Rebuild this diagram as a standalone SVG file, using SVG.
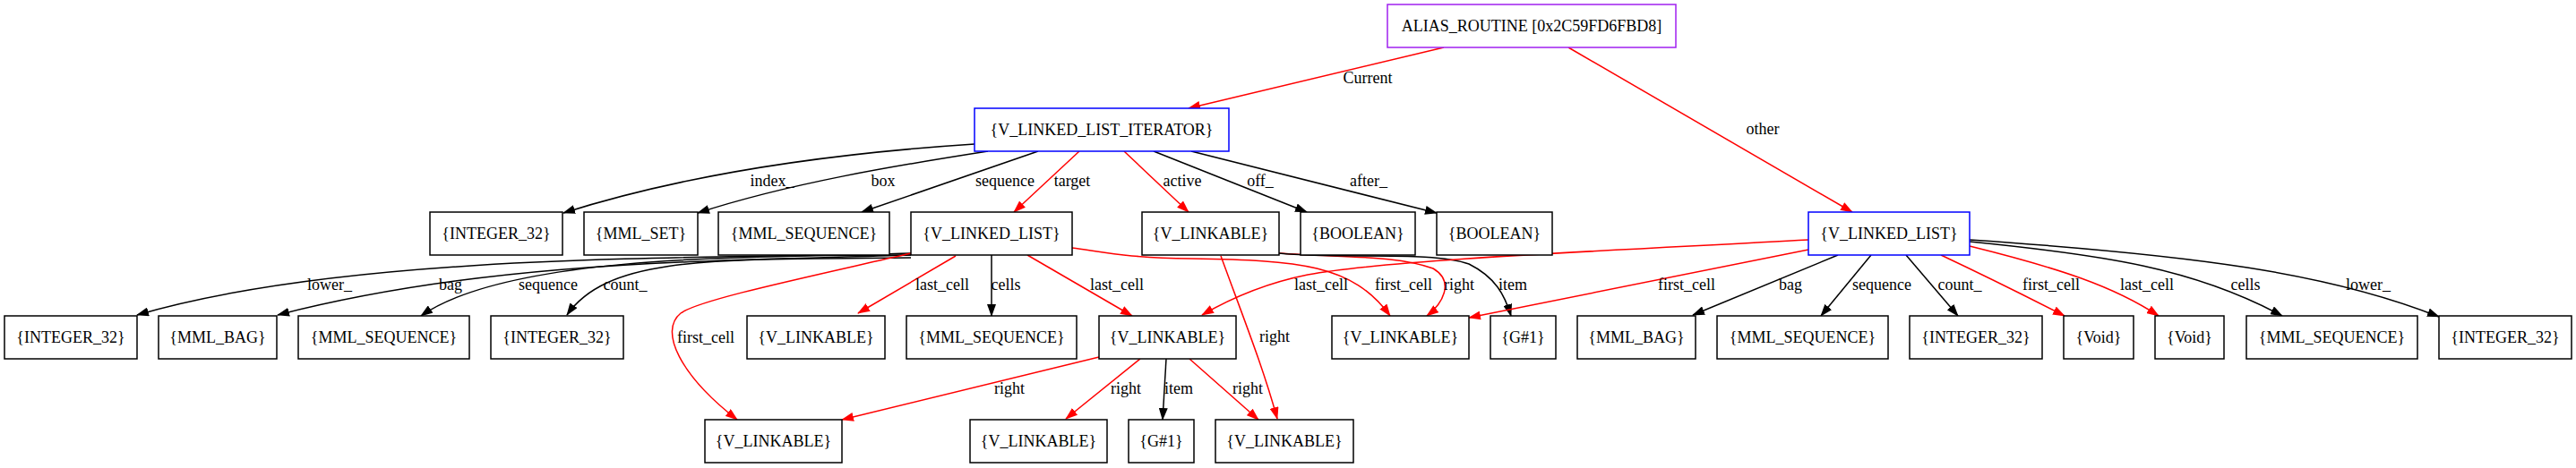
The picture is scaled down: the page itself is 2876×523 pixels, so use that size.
<svg xmlns="http://www.w3.org/2000/svg" width="2876" height="523" viewBox="0 0 2876 523">
<style>
.n rect{fill:#fff;stroke:#000;stroke-width:1.5}
.n.b rect{stroke:#0000ff}
.n.p rect{stroke:#a020f0}
text{font-family:"Liberation Serif","Times New Roman",serif;font-size:18px;fill:#000;text-anchor:middle}
.e path{fill:none;stroke:#000;stroke-width:1.5;marker-end:url(#ab)}
.e path.r{stroke:#ff0000;marker-end:url(#ar)}
</style>
<defs>
<marker id="ab" markerUnits="userSpaceOnUse" markerWidth="14" markerHeight="10" viewBox="0 0 14 10" refX="13" refY="5" orient="auto"><path d="M0,0 L14,5 L0,10 z" fill="#000"/></marker>
<marker id="ar" markerUnits="userSpaceOnUse" markerWidth="14" markerHeight="10" viewBox="0 0 14 10" refX="13" refY="5" orient="auto"><path d="M0,0 L14,5 L0,10 z" fill="#ff0000"/></marker>
</defs>
<rect width="2876" height="523" fill="#fff"/>
<g id="edges" class="e">
<path class="r" d="M1612,53 L1327,121"/>
<path class="r" d="M1751,53 L2068,237"/>
<path d="M1088,161 C950,170 780,190 629,238"/>
<path d="M1103,169 C1000,185 880,205 779,238"/>
<path d="M1159,169 L962,237"/>
<path class="r" d="M1205,169 L1132,237"/>
<path class="r" d="M1255,169 L1327,237"/>
<path d="M1288,169 L1459,237"/>
<path d="M1330,169 L1604,238"/>
<path d="M1017,283 C800,290 400,280 153,352"/>
<path d="M1017,285 C800,292 550,290 310,352"/>
<path d="M1017,285 C800,285 560,290 470,353"/>
<path d="M1017,288 C800,290 680,285 633,352"/>
<path class="r" d="M1017,283 C900,310 780,335 760,350 C735,370 760,420 823,469"/>
<path class="r" d="M1067,286 L958,350"/>
<path d="M1107,285 L1107,353"/>
<path class="r" d="M1147,285 L1264,353"/>
<path class="r" d="M1197,277 C1240,283 1260,288 1330,289 C1450,291 1510,295 1552,353"/>
<path class="r" d="M1363,286 C1390,360 1410,410 1426,468"/>
<path class="r" d="M1428,283 C1500,288 1560,285 1600,300 C1625,315 1610,340 1593,353"/>
<path d="M1428,283 C1500,290 1600,280 1640,295 C1670,310 1680,330 1687,353"/>
<path class="r" d="M1227,399 L940,469"/>
<path class="r" d="M1273,401 L1190,468"/>
<path d="M1302,401 L1298,469"/>
<path class="r" d="M1328,401 L1405,469"/>
<path class="r" d="M2019,268 C1800,280 1550,290 1460,307 C1420,315 1380,330 1342,352"/>
<path class="r" d="M2019,279 L1640,355"/>
<path d="M2052,285 L1890,352"/>
<path d="M2089,285 L2033,353"/>
<path d="M2128,285 L2186,353"/>
<path class="r" d="M2167,285 C2220,310 2260,330 2305,353"/>
<path class="r" d="M2199,275 C2300,300 2360,320 2410,353"/>
<path d="M2199,270 C2350,285 2450,300 2548,353"/>
<path d="M2199,268 C2450,285 2600,305 2723,354"/>
<text x="1527" y="93">Current</text>
<text x="1968" y="150">other</text>
<text x="862" y="208">index_</text>
<text x="986" y="208">box</text>
<text x="1122" y="208">sequence</text>
<text x="1197" y="208">target</text>
<text x="1320" y="208">active</text>
<text x="1407" y="208">off_</text>
<text x="1528" y="208">after_</text>
<text x="368" y="324">lower_</text>
<text x="503" y="324">bag</text>
<text x="612" y="324">sequence</text>
<text x="698" y="324">count_</text>
<text x="788" y="383">first_cell</text>
<text x="1052" y="324">last_cell</text>
<text x="1123" y="324">cells</text>
<text x="1247" y="324">last_cell</text>
<text x="1423" y="382">right</text>
<text x="1475" y="324">last_cell</text>
<text x="1567" y="324">first_cell</text>
<text x="1629" y="324">right</text>
<text x="1689" y="324">item</text>
<text x="1883" y="324">first_cell</text>
<text x="1999" y="324">bag</text>
<text x="2101" y="324">sequence</text>
<text x="2188" y="324">count_</text>
<text x="2290" y="324">first_cell</text>
<text x="2397" y="324">last_cell</text>
<text x="2507" y="324">cells</text>
<text x="2644" y="324">lower_</text>
<text x="1127" y="440">right</text>
<text x="1257" y="440">right</text>
<text x="1316" y="440">item</text>
<text x="1393" y="440">right</text>
</g>
<g id="alias" class="n p"><rect x="1549" y="5" width="322" height="48"/><text x="1710" y="35">ALIAS_ROUTINE [0x2C59FD6FBD8]</text></g>
<g id="iterator" class="n b"><rect x="1088" y="121" width="284" height="48"/><text x="1230" y="151">{V_LINKED_LIST_ITERATOR}</text></g>
<g id="it_index" class="n"><rect x="480" y="237" width="148" height="48"/><text x="554" y="267">{INTEGER_32}</text></g>
<g id="it_box" class="n"><rect x="652" y="237" width="127" height="48"/><text x="715.5" y="267">{MML_SET}</text></g>
<g id="it_seq" class="n"><rect x="802" y="237" width="191" height="48"/><text x="897.5" y="267">{MML_SEQUENCE}</text></g>
<g id="list1" class="n"><rect x="1017" y="237" width="180" height="48"/><text x="1107" y="267">{V_LINKED_LIST}</text></g>
<g id="active" class="n"><rect x="1275" y="237" width="153" height="48"/><text x="1351.5" y="267">{V_LINKABLE}</text></g>
<g id="off" class="n"><rect x="1452" y="237" width="128" height="48"/><text x="1516" y="267">{BOOLEAN}</text></g>
<g id="after" class="n"><rect x="1604" y="237" width="129" height="48"/><text x="1668.5" y="267">{BOOLEAN}</text></g>
<g id="list2" class="n b"><rect x="2019" y="237" width="180" height="48"/><text x="2109" y="267">{V_LINKED_LIST}</text></g>
<g id="l1_lower" class="n"><rect x="5" y="353" width="148" height="48"/><text x="79" y="383">{INTEGER_32}</text></g>
<g id="l1_bag" class="n"><rect x="177" y="353" width="132" height="48"/><text x="243" y="383">{MML_BAG}</text></g>
<g id="l1_seq" class="n"><rect x="333" y="353" width="191" height="48"/><text x="428.5" y="383">{MML_SEQUENCE}</text></g>
<g id="l1_count" class="n"><rect x="548" y="353" width="148" height="48"/><text x="622" y="383">{INTEGER_32}</text></g>
<g id="l1_lastcell" class="n"><rect x="834" y="353" width="154" height="48"/><text x="911" y="383">{V_LINKABLE}</text></g>
<g id="l1_cells" class="n"><rect x="1012" y="353" width="190" height="48"/><text x="1107" y="383">{MML_SEQUENCE}</text></g>
<g id="cell_mid" class="n"><rect x="1227" y="353" width="153" height="48"/><text x="1303.5" y="383">{V_LINKABLE}</text></g>
<g id="cell_right" class="n"><rect x="1487" y="353" width="153" height="48"/><text x="1563.5" y="383">{V_LINKABLE}</text></g>
<g id="g1a" class="n"><rect x="1664" y="353" width="73" height="48"/><text x="1700.5" y="383">{G#1}</text></g>
<g id="l2_bag" class="n"><rect x="1761" y="353" width="132" height="48"/><text x="1827" y="383">{MML_BAG}</text></g>
<g id="l2_seq" class="n"><rect x="1917" y="353" width="191" height="48"/><text x="2012.5" y="383">{MML_SEQUENCE}</text></g>
<g id="l2_count" class="n"><rect x="2132" y="353" width="148" height="48"/><text x="2206" y="383">{INTEGER_32}</text></g>
<g id="void1" class="n"><rect x="2304" y="353" width="78" height="48"/><text x="2343" y="383">{Void}</text></g>
<g id="void2" class="n"><rect x="2406" y="353" width="77" height="48"/><text x="2444.5" y="383">{Void}</text></g>
<g id="l2_cells" class="n"><rect x="2508" y="353" width="191" height="48"/><text x="2603.5" y="383">{MML_SEQUENCE}</text></g>
<g id="l2_lower" class="n"><rect x="2723" y="353" width="148" height="48"/><text x="2797" y="383">{INTEGER_32}</text></g>
<g id="r4a" class="n"><rect x="787" y="469" width="153" height="48"/><text x="863.5" y="499">{V_LINKABLE}</text></g>
<g id="r4b" class="n"><rect x="1083" y="469" width="153" height="48"/><text x="1159.5" y="499">{V_LINKABLE}</text></g>
<g id="g1b" class="n"><rect x="1260" y="469" width="73" height="48"/><text x="1296.5" y="499">{G#1}</text></g>
<g id="r4c" class="n"><rect x="1357" y="469" width="154" height="48"/><text x="1434" y="499">{V_LINKABLE}</text></g>
</svg>
